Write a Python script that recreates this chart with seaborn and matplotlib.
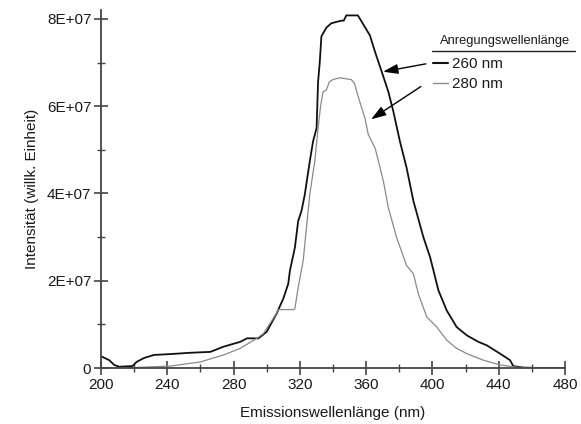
import matplotlib
matplotlib.use("Agg")
import matplotlib.pyplot as plt
from matplotlib.ticker import MultipleLocator, FuncFormatter
from matplotlib.lines import Line2D
import seaborn as sns
import pandas as pd

# --- data ---
nm_260 = [200, 205, 208, 211, 219, 221.5, 226, 232, 242, 254, 266, 274, 284, 288, 295,
          300, 306, 310, 313, 314, 317, 319, 321, 323, 326, 328, 330.1, 331, 332, 333, 336,
          339, 345, 346.5, 348, 355, 356.3, 362.3, 365.4, 369.4, 373.4, 376.4, 380.4, 384.4,
          386.5, 388.5, 394.6, 398.6, 403.6, 408.6, 414.6, 420.7, 427.7, 432.8, 440.8, 446.8,
          448.8, 455, 465, 480]
int_260 = [2.7, 1.8, 0.7, 0.3, 0.45, 1.4, 2.3, 3.0, 3.2, 3.5, 3.7, 4.9, 6.0, 6.8, 6.8,
           8.3, 12.5, 15.9, 19.3, 22.3, 27.6, 33.7, 36.0, 39.8, 47.4, 52.0, 55.0, 65.6, 70.0, 76.0, 78.0,
           79.0, 79.6, 79.6, 80.8, 80.8, 80.0, 76.2, 72.4, 67.9, 63.3, 58.8, 51.9, 45.9,
           42.0, 38.3, 29.9, 25.4, 17.8, 13.2, 9.4, 7.5, 6.0, 5.2, 3.3, 1.8,
           0.45, 0.1, 0.0, 0.0]

nm_280 = [200, 219, 242, 260, 274, 284, 294, 298, 305, 307, 316.5, 317, 319, 322, 324, 326,
          329, 331, 332.5, 334, 336, 337.8, 340, 344, 351, 353, 355.5, 359.3, 361.3, 365.4,
          368.4, 370.4, 373.4, 378.4, 384.4, 388.5, 391.5, 396.6, 402.6, 408.6, 414.6, 420.7,
          430.7, 440.8, 451, 462, 480]
int_280 = [0.0, 0.1, 0.45, 1.4, 3.0, 4.5, 6.8, 7.9, 12.0, 13.4, 13.4, 13.6, 18.5, 24.6, 32.2, 39.8,
           47.4, 55.0, 60.0, 63.3, 63.7, 65.6, 66.1, 66.5, 66.1, 65.2, 61.8, 57.2, 53.5, 50.4,
           45.9, 42.8, 36.7, 29.9, 23.5, 21.6, 17.0, 11.7, 9.4, 6.4, 4.5, 3.3,
           1.8, 0.7, 0.2, 0.0, 0.0]

series_labels = ["260 nm", "280 nm"]
legend_title = "Anregungswellenlänge"
x_label = "Emissionswellenlänge (nm)"
y_label = "Intensität (willk. Einheit)"

df = pd.concat([
    pd.DataFrame({"nm": nm_260, "I": [v * 1e6 for v in int_260], "Anregung": series_labels[0]}),
    pd.DataFrame({"nm": nm_280, "I": [v * 1e6 for v in int_280], "Anregung": series_labels[1]}),
], ignore_index=True)

sns.set_style("white")
plt.rcParams["font.family"] = ["Liberation Sans", "DejaVu Sans"]

fig = plt.figure(figsize=(5.81, 4.24), dpi=100)
ax = fig.add_axes([0.1738, 0.132, 0.7987, 0.844])

palette = {series_labels[0]: "#111111", series_labels[1]: "#8a8a8a"}
sns.lineplot(data=df, x="nm", y="I", hue="Anregung", palette=palette, ax=ax,
             estimator=None, sort=False, legend=False)
ax.lines[0].set_linewidth(1.3)
ax.lines[1].set_linewidth(0.9)

ax.set_xlim(200, 480)
ax.set_ylim(0, 8.2e7)

for s in ["top", "right"]:
    ax.spines[s].set_visible(False)
for s in ["left", "bottom"]:
    ax.spines[s].set_color("#444444")
    ax.spines[s].set_linewidth(1.3)

ax.xaxis.set_major_locator(MultipleLocator(40))
ax.xaxis.set_minor_locator(MultipleLocator(20))
ax.yaxis.set_major_locator(MultipleLocator(2e7))
ax.yaxis.set_minor_locator(MultipleLocator(1e7))

def yfmt(v, pos):
    if abs(v) < 1:
        return "0"
    return "{:.0E}".format(v)
ax.yaxis.set_major_formatter(FuncFormatter(yfmt))

ax.tick_params(axis="both", which="major", direction="inout", length=10, width=1.2,
               color="#444444", labelsize=11, labelcolor="#1a1a1a", pad=2)
ax.tick_params(axis="both", which="minor", direction="inout", length=6, width=1.0,
               color="#444444")
ax.tick_params(axis="x", which="both", bottom=True)
ax.tick_params(axis="y", which="both", left=True)

ax.set_xlabel(x_label, fontsize=11, color="#1a1a1a", labelpad=10)
ax.set_ylabel(y_label, fontsize=11, color="#1a1a1a", labelpad=6)

# legend (title drawn separately with underline)
handles = [Line2D([], [], color=palette[series_labels[0]], lw=1.5),
           Line2D([], [], color=palette[series_labels[1]], lw=1.0)]
leg = fig.legend(handles, series_labels, frameon=False,
                 loc="upper left", bbox_to_anchor=(430 / 581, 1 - 54 / 424),
                 fontsize=11, handlelength=1.0, handletextpad=0.25,
                 labelspacing=0.38, borderaxespad=0, borderpad=0.2)
for t in leg.get_texts():
    t.set_color("#1a1a1a")
fig.text(505 / 581, 1 - 41 / 424, legend_title, fontsize=9.3, color="#1a1a1a",
         ha="center", va="center")
fig.add_artist(Line2D([432 / 581, 575 / 581], [1 - 51 / 424, 1 - 51 / 424],
                      color="#222222", lw=1.0, transform=fig.transFigure))

# arrows
ax.annotate("", xy=(370.2, 6.79e7), xytext=(396, 6.97e7),
            arrowprops=dict(arrowstyle="-|>,head_length=0.9,head_width=0.3",
                            color="black", lw=1.0, shrinkA=0, shrinkB=0))
ax.annotate("", xy=(363, 5.7e7), xytext=(393, 6.45e7),
            arrowprops=dict(arrowstyle="-|>,head_length=0.9,head_width=0.3",
                            color="black", lw=1.0, shrinkA=0, shrinkB=0))

fig.savefig("out.png", dpi=100)
